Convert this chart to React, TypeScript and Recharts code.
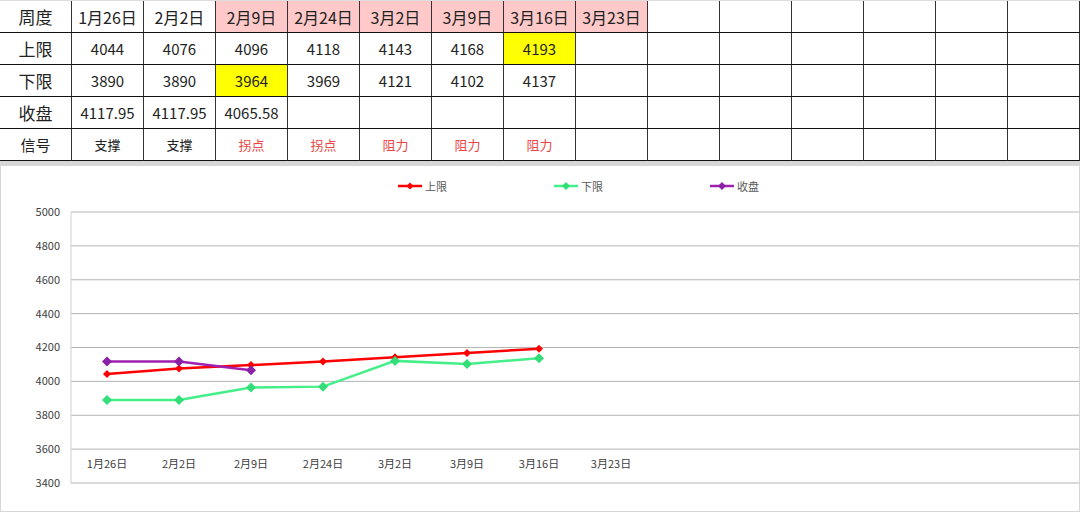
import { LineChart, Line, XAxis, YAxis, CartesianGrid, Legend } from 'recharts';

const weeks = ['1月26日', '2月2日', '2月9日', '2月24日', '3月2日', '3月9日', '3月16日', '3月23日'];
const upper = [4044, 4076, 4096, 4118, 4143, 4168, 4193];
const lower = [3890, 3890, 3964, 3969, 4121, 4102, 4137];
const close = [4117.95, 4117.95, 4065.58];
const signals = ['支撑', '支撑', '拐点', '拐点', '阻力', '阻力', '阻力'];
const yTicks = [3400, 3600, 3800, 4000, 4200, 4400, 4600, 4800, 5000];
const colCount = 14;

const RED = '#ff0000';
const GREEN = '#44ee88';
const GREEN_DOT = '#33dd77';
const PURPLE = '#a020b0';
const PURPLE_DOT = '#8a22a6';

const FONT = '"Noto Sans CJK SC", "Noto Sans", sans-serif';

const data = Array.from({ length: colCount }, (_, i) => ({
  key: 'c' + i,
  label: weeks[i] ?? '',
  upper: upper[i] ?? null,
  lower: lower[i] ?? null,
  close: close[i] ?? null,
}));

const diamond = (fill: string, r: number) => (props: any) => {
  const { cx, cy, index } = props;
  if (cx == null || cy == null) return <g key={'d' + index} />;
  return (
    <polygon
      key={'d' + index}
      points={`${cx},${cy - r} ${cx + r},${cy} ${cx},${cy + r} ${cx - r},${cy}`}
      fill={fill}
    />
  );
};

const legendItems = [
  { name: '上限', color: RED, dot: RED, r: 3.5 },
  { name: '下限', color: GREEN, dot: GREEN_DOT, r: 4 },
  { name: '收盘', color: PURPLE, dot: PURPLE_DOT, r: 4 },
];

function LegendContent() {
  return (
    <div style={{ display: 'flex', marginLeft: 396, gap: 102, fontFamily: FONT, fontSize: 11, color: '#595959' }}>
      {legendItems.map((it) => (
        <div key={it.name} style={{ display: 'flex', alignItems: 'center', width: 54 }}>
          <svg width={26} height={10}>
            <line x1={1} y1={5} x2={25} y2={5} stroke={it.color} strokeWidth={2.5} />
            <polygon points={`13,${5 - it.r} ${13 + it.r},5 13,${5 + it.r} ${13 - it.r},5`} fill={it.dot} />
          </svg>
          <span style={{ marginLeft: 2 }}>{it.name}</span>
        </div>
      ))}
    </div>
  );
}

function XTick(props: any) {
  const { x, y, payload } = props;
  const row = data.find((d) => d.key === payload.value);
  return (
    <text x={x} y={y - 18} textAnchor="middle" dominantBaseline="middle" fontSize={11} fill="#404040" fontFamily={FONT}>
      {row ? row.label : ''}
    </text>
  );
}

const cell = (content: any, opts: { bg?: string; color?: string; size?: number } = {}) => ({ content, ...opts });

export default function App() {
  const header = [cell('周度', { size: 17 })].concat(
    Array.from({ length: colCount }, (_, i) =>
      cell(weeks[i] ?? '', { size: 16, bg: i >= 2 && i <= 7 ? '#ffc9c9' : undefined })
    )
  );
  const upRow = [cell('上限', { size: 17 })].concat(
    Array.from({ length: colCount }, (_, i) => cell(upper[i] ?? '', { size: 15, bg: i === 6 ? '#ffff00' : undefined }))
  );
  const loRow = [cell('下限', { size: 17 })].concat(
    Array.from({ length: colCount }, (_, i) => cell(lower[i] ?? '', { size: 15, bg: i === 2 ? '#ffff00' : undefined }))
  );
  const clRow = [cell('收盘', { size: 17 })].concat(
    Array.from({ length: colCount }, (_, i) => cell(close[i] ?? '', { size: 15 }))
  );
  const sgRow = [cell('信号', { size: 15 })].concat(
    Array.from({ length: colCount }, (_, i) =>
      cell(signals[i] ?? '', { size: 13, color: signals[i] && signals[i] !== '支撑' ? '#ee4444' : '#222' })
    )
  );
  const rows = [header, upRow, loRow, clRow, sgRow];

  return (
    <div style={{ position: 'absolute', top: 0, left: 0, width: 1080, background: '#fff', fontFamily: FONT }}>
      <div
        style={{
          display: 'grid',
          gridTemplateColumns: 'repeat(15, 72px)',
          gridTemplateRows: 'repeat(5, 32px)',
          borderTop: '1px solid #ddd',
          boxSizing: 'border-box',
        }}
      >
        {rows.map((r, ri) =>
          r.map((c: any, ci: number) => (
            <div
              key={ri + '-' + ci}
              style={{
                boxSizing: 'border-box',
                borderRight: '1px solid #333',
                borderBottom: '1px solid #111',
                background: c.bg ?? '#fff',
                color: c.color ?? '#222',
                fontSize: c.size,
                display: 'flex',
                alignItems: 'center',
                justifyContent: 'center',
                lineHeight: 1,
              }}
            >
              {c.content}
            </div>
          ))
        )}
      </div>
      <div style={{ height: 4, background: '#d6d6d6' }} />
      <div style={{ width: 1078, height: 345, border: '1px solid #d6d6d6', background: '#fff' }}>
        <LineChart width={1078} height={345} data={data} margin={{ top: 46, right: 0, bottom: 0, left: 0 }}>
          <CartesianGrid vertical={false} stroke="#b4b4b4" />
          <XAxis
            dataKey="key"
            axisLine={false}
            tickLine={false}
            tickSize={0}
            tickMargin={0}
            height={28}
            interval={0}
            padding={{ left: 36, right: 36 }}
            tick={<XTick />}
          />
          <YAxis
            domain={[3400, 5000]}
            ticks={yTicks}
            width={70}
            axisLine={{ stroke: '#d0d0d0' }}
            tickLine={false}
            tickSize={0}
            tickMargin={11}
            tick={{ fontSize: 11, fill: '#404040', fontFamily: FONT }}
          />
          <Legend verticalAlign="middle" align="center" wrapperStyle={{ top: 12, left: 0, width: 1078 }} content={<LegendContent />} />
          <Line
            dataKey="upper"
            name="上限"
            stroke={RED}
            strokeWidth={2.5}
            dot={diamond(RED, 4)}
            activeDot={false}
            isAnimationActive={false}
          />
          <Line
            dataKey="lower"
            name="下限"
            stroke={GREEN}
            strokeWidth={2.5}
            dot={diamond(GREEN_DOT, 5)}
            activeDot={false}
            isAnimationActive={false}
          />
          <Line
            dataKey="close"
            name="收盘"
            stroke={PURPLE}
            strokeWidth={2.5}
            dot={diamond(PURPLE_DOT, 5)}
            activeDot={false}
            isAnimationActive={false}
          />
        </LineChart>
      </div>
    </div>
  );
}
